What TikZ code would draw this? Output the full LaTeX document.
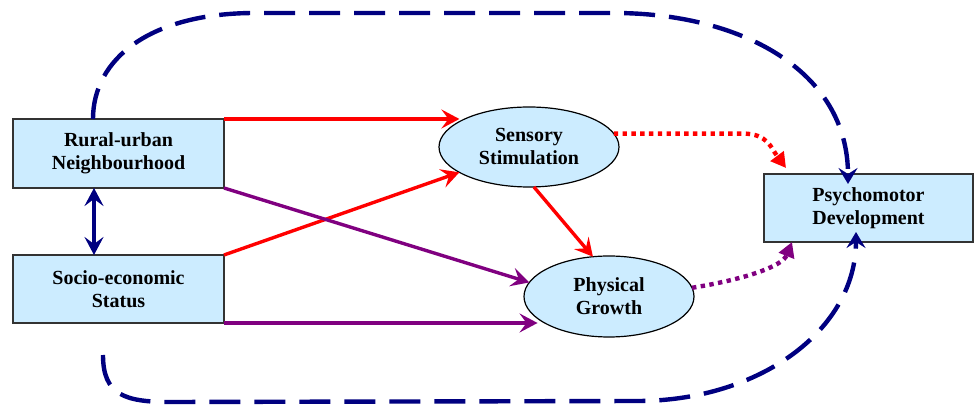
\documentclass[tikz,border=0pt]{standalone}
\usepackage{fontspec}
\setmainfont{Liberation Serif}
\usetikzlibrary{arrows.meta,shapes.geometric,calc}
\definecolor{boxfill}{RGB}{204,236,255}
\definecolor{navyc}{RGB}{0,0,128}
\definecolor{purp}{RGB}{128,0,128}
\begin{document}
\begin{tikzpicture}[x=0.5pt,y=-0.5pt,
  every node/.style={font=\fontsize{10}{11.5}\selectfont\bfseries, align=center},
  rect/.style={draw=black!80, fill=boxfill, inner sep=0pt, outer sep=0pt, line width=0.6pt},
  ell/.style={ellipse, draw=black, fill=boxfill, inner sep=0pt, outer sep=0pt, line width=0.6pt},
  tipS/.style={-{Stealth[length=9pt,width=9.5pt,inset=3.5pt]}},
  redarr/.style={draw=red, line width=1.7pt, tipS},
  purarr/.style={draw=purp, line width=1.7pt, tipS},
  dotarr/.style={line width=2.2pt, dash pattern=on 2.2pt off 2.2pt, -{Triangle[length=7.5pt,width=8pt]}},
  navydash/.style={draw=navyc, line width=2.2pt, dash pattern=on 15.5pt off 7pt, -{Stealth[length=8pt,width=9.5pt,inset=3pt]}}
]
\useasboundingbox (0,0) rectangle (974,410);

\node[rect, minimum width=105.5pt, minimum height=34.5pt] (RU) at (118.5,153.5) {Rural-urban\\Neighbourhood};
\node[rect, minimum width=105.5pt, minimum height=34pt] (SES) at (118.5,289) {Socio-economic\\Status};
\node[rect, minimum width=104.5pt, minimum height=34pt] (PM) at (868.5,208) {Psychomotor\\Development};
\node[ell, minimum width=90pt, minimum height=40pt] (SS) at (529,147) {Sensory\\Stimulation};
\node[ell, minimum width=85pt, minimum height=40.5pt] (PG) at (609,296.5) {Physical\\Growth};

% double arrow
\draw[draw=navyc, line width=1.7pt, {Stealth[length=9pt,width=9.5pt,inset=3.5pt]}-{Stealth[length=9pt,width=9.5pt,inset=3.5pt]}]
  ($(RU.south)+(-24.5,0)$) -- ($(SES.north)+(-24.5,0)$);

% red arrows
\draw[redarr, shorten >=3pt] (RU.north east) -- (RU.north east -| SS.156);
\draw[redarr] (SES.north east) -- (SS.200);
\draw[redarr] (SS.-83) -- (PG.112);

% purple arrows
\draw[purarr] (RU.south east) -- (PG.170);
\draw[purarr, shorten >=4pt] (SES.south east) -- (SES.south east -| PG.203);

% dotted arrows
\draw[dotarr, draw=red] (SS.9) -- ++(129,0) .. controls +(25,0) and +(-15,-20) .. ($(PM.north west)+(22,-6)$);
\draw[dotarr, draw=purp] (PG.6) .. controls +(50,-8) and +(-10,25) .. ($(PM.south west)+(28,0)$);

% dashed navy curves
\coordinate (t1) at (255,13);
\coordinate (t2) at (614,13);
\coordinate (b0) at ($(SES.south)+(-15.5,32)$);
\coordinate (b1) at (170,402);
\coordinate (b2) at (640,401);
\draw[navydash] ($(RU.north)+(-25.5,0)$) .. controls +(0,-60) and +(-105,0) .. (t1) -- (t2)
  .. controls +(126,0) and +(0,-114) .. ($(PM.north)+(-20.5,10)$);
\draw[navydash] (b0) .. controls +(0,40) and +(-45,0) .. (b1) -- (b2)
  .. controls +(120,-1) and +(0,98) .. ($(PM.south)+(-12.5,-10)$);
\end{tikzpicture}
\end{document}
